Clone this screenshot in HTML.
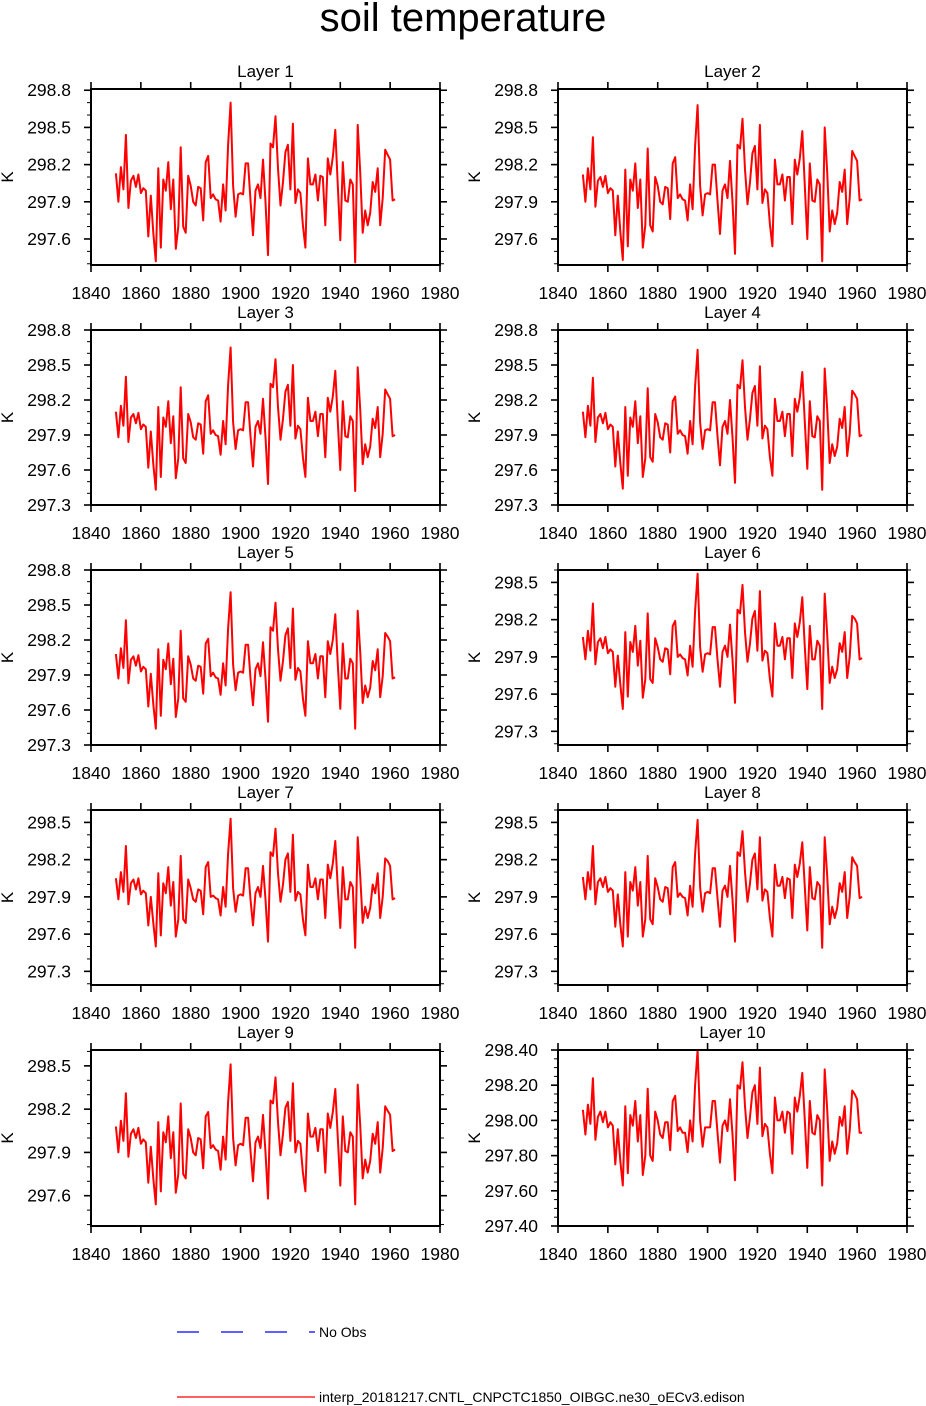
<!DOCTYPE html>
<html><head><meta charset="utf-8"><style>
body{margin:0;background:#fff}
svg{display:block;font-family:"Liberation Sans",Arial,sans-serif}
</style></head><body>
<svg id="fig" width="926" height="1406" viewBox="0 0 926 1406">
<text x="463" y="31" text-anchor="middle" font-size="40">soil temperature</text>
<g>
<line x1="177" y1="1332" x2="315" y2="1332" stroke="#0000ff" stroke-width="1.3" stroke-dasharray="22,22"/>
<text x="319" y="1337" font-size="14">No Obs</text>
<line x1="177" y1="1397" x2="315" y2="1397" stroke="#ff0000" stroke-width="1.3"/>
<text x="319" y="1402" font-size="14">interp_20181217.CNTL_CNPCTC1850_OIBGC.ne30_oECv3.edison</text>
</g>
</svg>
<script>
const startYear = 1850;
const xTicks = [1840,1860,1880,1900,1920,1940,1960,1980];
const baseK = 298;
const layer1 = [13,-10,18,0,44,-15,7,11,2,12,-3,1,-1,-38,-5,-35,-58,17,-47,8,-1,22,-16,8,-48,-30,34,-30,-35,11,3,-10,-13,2,1,-25,22,27,-7,-4,-8,-9,-26,4,-17,36,70,3,-22,-4,-3,-4,21,21,-9,-37,-1,4,-7,24,-10,-53,37,34,59,17,-13,6,30,36,0,53,-11,0,-3,-29,-47,25,4,4,12,-9,11,10,-29,25,12,26,48,3,-41,22,-9,-10,8,4,-59,52,14,-35,-17,-29,-19,6,-2,17,-29,-7,32,28,24,-9,-8];
const layer2 = [12,-10,17,0,42,-14,7,10,2,11,-3,1,-1,-37,-5,-34,-57,16,-46,8,-1,21,-15,8,-47,-29,33,-29,-34,10,3,-10,-12,2,1,-24,21,26,-7,-4,-8,-9,-25,4,-16,35,68,3,-21,-4,-3,-4,20,20,-9,-36,-1,4,-7,23,-10,-52,36,33,57,16,-12,6,29,35,0,52,-11,0,-3,-28,-46,24,4,4,12,-9,10,10,-28,24,12,25,47,3,-40,21,-9,-10,8,4,-58,50,14,-34,-17,-28,-19,6,-2,16,-28,-7,31,27,23,-9,-8];
const layer3 = [10,-12,15,-2,40,-16,5,8,0,9,-5,-1,-3,-38,-7,-35,-57,14,-46,5,-3,19,-17,6,-47,-30,31,-30,-34,8,1,-12,-14,0,-1,-26,19,24,-9,-6,-10,-11,-27,2,-18,33,65,1,-22,-6,-5,-6,18,18,-11,-37,-3,2,-9,21,-12,-52,34,31,55,14,-14,4,27,33,-2,50,-13,-2,-5,-29,-46,22,2,2,10,-11,8,8,-29,22,10,23,45,1,-40,19,-11,-12,6,2,-58,48,12,-35,-18,-29,-20,4,-4,14,-29,-9,29,25,21,-11,-10];
const layer4 = [10,-12,15,-2,39,-16,5,8,0,9,-5,-1,-3,-37,-7,-34,-56,14,-45,5,-3,19,-17,6,-46,-30,30,-29,-33,8,1,-12,-14,0,-1,-25,19,23,-9,-6,-10,-11,-26,2,-18,32,63,1,-22,-6,-5,-6,18,18,-11,-36,-3,2,-9,20,-12,-51,33,30,54,14,-14,4,26,32,-2,49,-13,-2,-5,-29,-45,21,2,2,10,-11,8,8,-28,21,10,22,44,1,-39,19,-11,-12,6,2,-57,47,12,-34,-18,-28,-20,4,-4,14,-28,-9,28,25,21,-11,-10];
const layer5 = [8,-13,13,-4,37,-17,3,6,-2,7,-7,-3,-5,-37,-9,-35,-56,12,-45,3,-5,17,-18,4,-46,-30,28,-30,-33,6,-1,-13,-15,-2,-3,-26,17,21,-11,-8,-12,-13,-27,0,-19,30,61,-1,-23,-8,-7,-8,16,16,-13,-36,-5,0,-11,18,-13,-50,31,28,52,12,-15,2,24,30,-4,47,-14,-4,-7,-30,-45,19,0,0,8,-13,6,6,-29,19,8,20,42,-1,-39,17,-13,-13,4,0,-56,45,10,-34,-19,-29,-21,2,-6,12,-29,-11,26,23,19,-13,-12];
const layer6 = [6,-12,11,-5,33,-16,2,5,-3,6,-7,-4,-6,-34,-9,-32,-52,10,-42,2,-6,15,-17,3,-43,-28,25,-28,-31,5,-2,-12,-14,-3,-4,-24,15,19,-10,-8,-11,-12,-25,-1,-18,27,57,-2,-22,-8,-7,-8,14,14,-12,-34,-6,-1,-10,16,-12,-47,28,25,48,10,-14,1,21,27,-5,43,-13,-5,-7,-28,-42,17,-1,-1,6,-12,5,5,-27,17,6,18,38,-2,-36,15,-12,-12,3,-1,-52,41,8,-31,-18,-27,-20,1,-6,10,-27,-10,23,21,17,-12,-11];
const layer7 = [5,-12,10,-6,31,-16,1,4,-4,5,-8,-5,-7,-33,-10,-31,-50,9,-41,1,-7,14,-17,2,-42,-28,23,-28,-31,4,-3,-12,-14,-4,-5,-24,14,18,-10,-9,-11,-12,-25,-2,-18,25,53,-3,-22,-9,-8,-9,13,13,-12,-33,-7,-2,-10,15,-12,-46,26,23,45,9,-14,0,20,25,-6,40,-13,-6,-8,-28,-41,16,-2,-2,5,-12,4,4,-27,16,5,17,35,-3,-35,14,-12,-12,2,-2,-51,38,7,-31,-18,-27,-19,0,-7,9,-27,-10,21,19,15,-12,-11];
const layer8 = [6,-12,10,-4,31,-16,2,5,-2,6,-6,-3,-5,-34,-8,-32,-50,10,-42,2,-5,14,-17,2,-42,-28,23,-28,-32,5,-2,-12,-14,-2,-3,-24,14,18,-10,-7,-10,-11,-25,-1,-18,25,52,-2,-22,-7,-6,-7,13,13,-11,-34,-5,-1,-10,15,-12,-46,26,23,43,10,-14,1,20,25,-4,38,-13,-4,-6,-27,-42,16,-1,-1,6,-11,5,4,-27,16,6,17,34,-2,-37,14,-11,-12,2,-1,-51,38,7,-32,-18,-27,-19,1,-6,10,-27,-10,22,18,15,-11,-10];
const layer9 = [8,-10,12,-2,31,-13,3,6,0,7,-4,-1,-3,-31,-6,-28,-46,11,-37,4,-3,15,-14,4,-38,-25,24,-25,-28,6,0,-10,-12,0,-1,-21,15,18,-7,-5,-8,-9,-22,1,-15,25,51,0,-19,-5,-4,-5,14,14,-9,-30,-3,1,-7,16,-10,-42,26,24,42,11,-12,3,21,25,-2,38,-10,-2,-4,-24,-37,17,1,1,7,-9,6,6,-24,17,7,18,34,0,-33,15,-9,-10,4,1,-46,37,9,-28,-15,-24,-16,3,-4,11,-24,-7,22,19,16,-9,-8];
const layer10 = [6,-8,9,-2,24,-11,2,5,-1,5,-4,-1,-3,-25,-5,-23,-37,8,-30,3,-3,11,-12,3,-31,-20,18,-20,-23,5,0,-8,-10,-1,-1,-17,11,14,-6,-4,-7,-7,-18,0,-12,20,40,0,-15,-4,-4,-4,11,11,-7,-24,-3,0,-6,12,-8,-34,20,18,33,8,-10,2,16,20,-2,30,-9,-2,-4,-19,-30,13,0,0,5,-7,5,4,-19,13,5,14,27,0,-27,11,-7,-8,3,0,-37,29,6,-23,-12,-19,-13,2,-3,8,-19,-6,17,15,12,-7,-7];
const yTicksA = [297.6,297.9,298.2,298.5,298.8];
const yTicksB = [297.3,297.6,297.9,298.2,298.5,298.8];
const yTicksC = [297.3,297.6,297.9,298.2,298.5];
const yTicksD = [297.6,297.9,298.2,298.5];
const yTicksE = [297.4,297.6,297.8,298.0,298.2,298.4];

const svg = document.getElementById('fig');
const NS = 'http://www.w3.org/2000/svg';
function mk(tag, attrs, parent){const e=document.createElementNS(NS,tag);for(const k in attrs)e.setAttribute(k,attrs[k]);parent.appendChild(e);return e;}

const panels = [
 {t:'Layer 1',d:layer1,c:0,r:0,ymin:297.39,ymax:298.81,ticks:yTicksA,dec:1,minor:0.1},
 {t:'Layer 2',d:layer2,c:1,r:0,ymin:297.39,ymax:298.81,ticks:yTicksA,dec:1,minor:0.1},
 {t:'Layer 3',d:layer3,c:0,r:1,ymin:297.3,ymax:298.8,ticks:yTicksB,dec:1,minor:0.1},
 {t:'Layer 4',d:layer4,c:1,r:1,ymin:297.3,ymax:298.8,ticks:yTicksB,dec:1,minor:0.1},
 {t:'Layer 5',d:layer5,c:0,r:2,ymin:297.3,ymax:298.8,ticks:yTicksB,dec:1,minor:0.1},
 {t:'Layer 6',d:layer6,c:1,r:2,ymin:297.19,ymax:298.6,ticks:yTicksC,dec:1,minor:0.1},
 {t:'Layer 7',d:layer7,c:0,r:3,ymin:297.19,ymax:298.6,ticks:yTicksC,dec:1,minor:0.1},
 {t:'Layer 8',d:layer8,c:1,r:3,ymin:297.19,ymax:298.6,ticks:yTicksC,dec:1,minor:0.1},
 {t:'Layer 9',d:layer9,c:0,r:4,ymin:297.39,ymax:298.61,ticks:yTicksD,dec:1,minor:0.1},
 {t:'Layer 10',d:layer10,c:1,r:4,ymin:297.4,ymax:298.4,ticks:yTicksE,dec:2,minor:0.05}
];
const colX=[91,558], rowY=[[89,265],[330,505],[570,745],[810,985],[1050,1226]], W=349;

panels.forEach((p,i)=>{
 const x0=colX[p.c], x1=x0+W, y0=rowY[p.r][0], y1=rowY[p.r][1];
 const g=mk('g',{},svg);
 
 
 const sx=v=>x0+(v-1840)/(1980-1840)*W;
 const sy=v=>y1-(v-p.ymin)/(p.ymax-p.ymin)*(y1-y0);
 const title=mk('text',{x:(x0+x1)/2,y:y0-12,'text-anchor':'middle','font-size':17},g);
 title.textContent=p.t;
 
 
 const yl=mk('text',{x:0,y:0,'text-anchor':'middle','font-size':17,transform:`translate(${x0-78},${(y0+y1)/2}) rotate(-90)`},g);
 yl.textContent='K';
 
 
 const lo=Math.ceil(p.ymin/p.minor-1e-6), hi=Math.floor(p.ymax/p.minor+1e-6);
 for(let k=lo;k<=hi;k++){const v=k*p.minor,y=sy(v);
  mk('line',{x1:x0-4,x2:x0,y1:y,y2:y,stroke:'#000','stroke-width':1},g);
  mk('line',{x1:x1,x2:x1+4,y1:y,y2:y,stroke:'#000','stroke-width':1},g);}
 p.ticks.forEach(v=>{const y=sy(v);
  mk('line',{x1:x0-7,x2:x0,y1:y,y2:y,stroke:'#000','stroke-width':1.6},g);
  mk('line',{x1:x1,x2:x1+7,y1:y,y2:y,stroke:'#000','stroke-width':1.6},g);
  const t=mk('text',{x:x0-20,y:y+6,'text-anchor':'end','font-size':17.5},g);
  t.textContent=v.toFixed(p.dec);
  
  });
 xTicks.forEach(v=>{const x=sx(v);
  mk('line',{x1:x,x2:x,y1:y1,y2:y1+7,stroke:'#000','stroke-width':1.6},g);
  mk('line',{x1:x,x2:x,y1:y0-7,y2:y0,stroke:'#000','stroke-width':1.6},g);
  const t=mk('text',{x:x,y:y1+34,'text-anchor':'middle','font-size':17.5},g);
  t.textContent=v;
  
  });
 const pts=p.d.map((a,j)=>sx(startYear+j).toFixed(1)+','+sy(baseK+a/100).toFixed(1)).join(' ');
 const line=mk('polyline',{points:pts,fill:'none',stroke:'#ff0000','stroke-width':2,'stroke-linejoin':'round'},g);
 
 
 const box=mk('rect',{x:x0,y:y0,width:W,height:y1-y0,fill:'none',stroke:'#000','stroke-width':2},g);
 
 
});
</script>
</body></html>
